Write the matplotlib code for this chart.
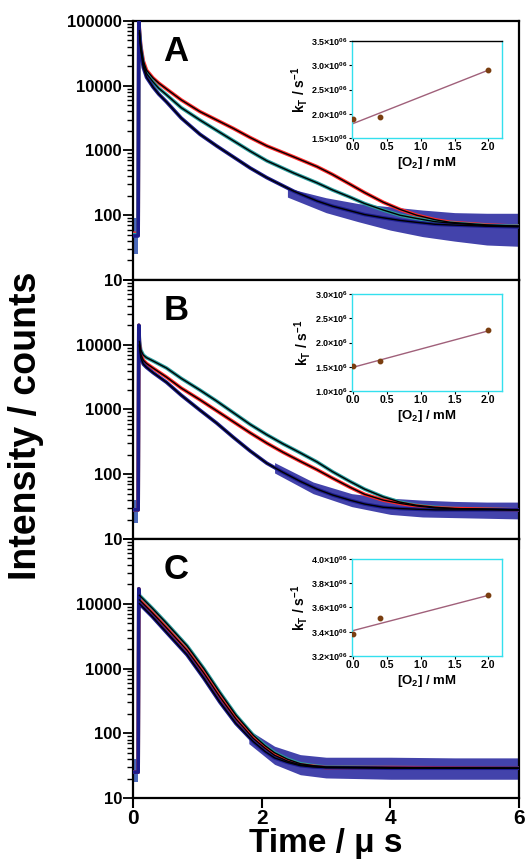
import matplotlib
matplotlib.use('Agg')
import matplotlib.pyplot as plt
import numpy as np
from matplotlib.ticker import LogLocator, FuncFormatter, NullFormatter

plt.rcParams.update({
    'font.family': ['Liberation Sans', 'DejaVu Sans'],
    'font.weight': 'bold',
    'mathtext.fontset': 'custom',
    'mathtext.rm': 'Liberation Sans:bold',
    'mathtext.it': 'Liberation Sans:italic:bold',
    'mathtext.bf': 'Liberation Sans:bold',
    'mathtext.default': 'rm',
})

# ============================================================
# Decay traces, log10(counts)
# ============================================================
tA = [0.0, 0.08, 0.09, 0.10, 0.12, 0.16, 0.21, 0.31, 0.40, 0.52, 0.75, 1.04, 1.30, 1.56, 1.82,
      2.08, 2.50, 2.86, 3.10, 3.37, 3.60, 3.89, 4.15, 4.41, 4.70, 4.93, 5.50, 6.0]
A_top = [1.72, 1.72, 5.0, 4.85, 4.62, 4.38, 4.24, 4.12, 4.04, 3.95, 3.78, 3.60, 3.47, 3.34, 3.20,
         3.07, 2.90, 2.75, 2.63, 2.48, 2.35, 2.20, 2.09, 2.00, 1.93, 1.89, 1.85, 1.83]
A_mid = [1.70, 1.70, 5.0, 4.82, 4.58, 4.33, 4.19, 4.06, 3.96, 3.86, 3.66, 3.47, 3.31, 3.15, 2.99,
         2.84, 2.65, 2.50, 2.39, 2.28, 2.18, 2.08, 2.00, 1.95, 1.90, 1.88, 1.84, 1.83]
A_bot = [1.68, 1.68, 5.0, 4.80, 4.55, 4.28, 4.13, 3.98, 3.87, 3.75, 3.50, 3.25, 3.07, 2.90, 2.73,
         2.58, 2.37, 2.22, 2.14, 2.07, 2.01, 1.96, 1.92, 1.89, 1.86, 1.85, 1.83, 1.82]

tB = [0.0, 0.08, 0.09, 0.10, 0.12, 0.16, 0.21, 0.31, 0.52, 0.75, 1.04, 1.30, 1.56, 1.82, 2.08,
      2.33, 2.60, 2.86, 3.10, 3.37, 3.60, 3.89, 4.15, 4.41, 4.70, 5.0, 6.0]
B_top = [1.45, 1.45, 4.30, 4.05, 3.92, 3.84, 3.80, 3.75, 3.64, 3.48, 3.30, 3.13, 2.95, 2.77, 2.61,
         2.47, 2.33, 2.19, 2.04, 1.89, 1.77, 1.65, 1.57, 1.52, 1.49, 1.47, 1.45]
B_mid = [1.45, 1.45, 4.30, 4.00, 3.85, 3.76, 3.71, 3.64, 3.50, 3.33, 3.15, 2.98, 2.81, 2.64, 2.48,
         2.34, 2.20, 2.07, 1.94, 1.80, 1.69, 1.60, 1.55, 1.51, 1.48, 1.47, 1.45]
B_bot = [1.45, 1.45, 4.30, 3.98, 3.80, 3.70, 3.65, 3.57, 3.42, 3.22, 2.99, 2.79, 2.57, 2.36, 2.17,
         2.03, 1.89, 1.77, 1.68, 1.60, 1.54, 1.49, 1.47, 1.46, 1.45, 1.45, 1.45]

tC = [0.0, 0.08, 0.09, 0.10, 0.30, 0.50, 0.84, 1.10, 1.35, 1.60, 1.87, 2.05, 2.20, 2.40, 2.60,
      2.80, 3.00, 4.00, 6.0]
C_top = [1.40, 1.40, 4.23, 4.13, 3.93, 3.72, 3.35, 3.00, 2.63, 2.28, 1.97, 1.81, 1.70, 1.60, 1.53,
         1.50, 1.48, 1.47, 1.46]
C_mid = [1.40, 1.40, 4.23, 4.06, 3.86, 3.65, 3.28, 2.93, 2.56, 2.22, 1.92, 1.77, 1.66, 1.57, 1.51,
         1.49, 1.47, 1.47, 1.46]
C_bot = [1.40, 1.40, 4.23, 4.00, 3.80, 3.58, 3.21, 2.85, 2.48, 2.15, 1.87, 1.72, 1.62, 1.55, 1.50,
         1.48, 1.47, 1.46, 1.46]

# noise envelope of the tails (log10 counts)
bandA_t = [2.4, 3.0, 3.5, 4.0, 4.5, 5.0, 5.5, 6.0]
bandA_hi = [2.42, 2.27, 2.18, 2.13, 2.08, 2.04, 2.03, 2.03]
bandA_lo = [2.28, 2.04, 1.90, 1.77, 1.67, 1.60, 1.54, 1.52]
bandB_t = [2.2, 2.8, 3.4, 4.0, 4.5, 5.0, 5.5, 6.0]
bandB_hi = [2.18, 1.88, 1.70, 1.63, 1.60, 1.58, 1.57, 1.57]
bandB_lo = [2.02, 1.70, 1.50, 1.38, 1.34, 1.33, 1.32, 1.31]
bandC_t = [1.8, 2.2, 2.6, 3.0, 4.0, 5.0, 6.0]
bandC_hi = [2.05, 1.80, 1.67, 1.63, 1.63, 1.62, 1.62]
bandC_lo = [1.84, 1.52, 1.36, 1.31, 1.29, 1.29, 1.29]
pre_band = [(1.40, 1.95), (1.25, 1.60), (1.25, 1.60)]

# ============================================================
# Inset data: k_T vs [O2]
# ============================================================
o2 = [0.0, 0.4, 2.0]
kA = [1.89e6, 1.93e6, 2.91e6]
kB = [1.52e6, 1.62e6, 2.26e6]
kC = [3.38e6, 3.51e6, 3.70e6]
fit_x = [0.0, 2.0]
fitA = [1.80e6, 2.90e6]
fitB = [1.49e6, 2.24e6]
fitC = [3.41e6, 3.70e6]

RED = '#ff2a2a'
TEAL = '#2a9d9d'
NAVY = '#1c1c8c'

panels = [
    ('A', tA, [A_top, A_mid, A_bot], [RED, TEAL, NAVY], (bandA_t, bandA_lo, bandA_hi)),
    ('B', tB, [B_top, B_mid, B_bot], [TEAL, RED, NAVY], (bandB_t, bandB_lo, bandB_hi)),
    ('C', tC, [C_top, C_mid, C_bot], [TEAL, RED, NAVY], (bandC_t, bandC_lo, bandC_hi)),
]
insets = [
    (kA, fitA, (1.5e6, 3.5e6), [1.5e6, 2.0e6, 2.5e6, 3.0e6, 3.5e6], '06'),
    (kB, fitB, (1.0e6, 3.0e6), [1.0e6, 1.5e6, 2.0e6, 2.5e6, 3.0e6], '6'),
    (kC, fitC, (3.2e6, 4.0e6), [3.2e6, 3.4e6, 3.6e6, 3.8e6, 4.0e6], '06'),
]

fig = plt.figure(figsize=(5.26, 8.66), dpi=100)

H = 0.2991
bottoms = [0.6767, 0.3776, 0.0785]
inset_bottoms = [0.8406, 0.5485, 0.2425]

for idx, (letter, t, traces, cols, band) in enumerate(panels):
    ax = fig.add_axes([0.2529, bottoms[idx], 0.7338, H])
    bt, blo, bhi = band
    ax.fill_between(bt, 10 ** np.array(blo), 10 ** np.array(bhi), color='#22229c', alpha=0.85, lw=0, zorder=2)
    lo, hi = pre_band[idx]
    ax.fill_between([0.0, 0.08], [10 ** lo] * 2, [10 ** hi] * 2, color='#2b50b0', alpha=0.85, lw=0, zorder=2)
    for vals, c in zip(traces, cols):
        y = 10 ** np.array(vals)
        ax.plot(t, y, color=c, lw=2.6, zorder=3, solid_joinstyle='round')
    for vals in traces:
        y = 10 ** np.array(vals)
        ax.plot(t[3:], y[3:], color='black', lw=1.0, zorder=4, solid_joinstyle='round')

    ax.set_yscale('log')
    ax.set_xlim(0, 6)
    ax.set_ylim(10, 1e5)
    ax.yaxis.set_major_locator(LogLocator(base=10, numticks=10))
    ax.yaxis.set_minor_locator(LogLocator(base=10, subs=np.arange(2, 10), numticks=20))
    ax.yaxis.set_minor_formatter(NullFormatter())
    if idx == 0:
        ax.yaxis.set_major_formatter(FuncFormatter(lambda v, p: f'{int(round(v))}'))
    else:
        ax.yaxis.set_major_formatter(FuncFormatter(lambda v, p: f'{int(round(v))}' if v < 5e4 else ''))
    ax.set_xticks([0, 2, 4, 6])
    ax.tick_params(axis='y', which='major', direction='out', length=7, width=1.3, pad=1, labelsize=12)
    ax.tick_params(axis='y', which='minor', direction='out', length=4, width=1.0)
    ax.tick_params(axis='x', which='major', direction='out', length=7, width=1.5, pad=1, labelsize=15)
    if idx < 2:
        ax.tick_params(axis='x', labelbottom=False)
    for s in ax.spines.values():
        s.set_linewidth(1.6)
    ax.text(0.078, 0.884, letter, transform=ax.transAxes, fontsize=25, fontweight='bold',
            ha='left', va='center')
    if idx == 2:
        ax.set_xlabel('Time / μ s', fontsize=24, fontweight='bold', labelpad=0)

    # inset
    k, fit, ylim, yt, exp = insets[idx]
    ins = fig.add_axes([0.669, inset_bottoms[idx], 0.285, 0.112])
    ins.plot(fit_x, fit, color='#a0607a', lw=1.0, zorder=2)
    ins.plot(o2, k, 'o', color='#7a3e10', ms=3.2, zorder=3)
    ins.set_xlim(-0.02, 2.2)
    ins.set_ylim(*ylim)
    ins.set_xticks([0.0, 0.5, 1.0, 1.5, 2.0])
    ins.set_xticklabels(['0.0', '0.5', '1.0', '1.5', '2.0'])
    ins.set_yticks(yt)
    ins.yaxis.set_major_formatter(FuncFormatter(
        lambda v, p, e=exp: f'{v / 1e6:.1f}×10$^{{{e}}}$'))
    ins.tick_params(axis='both', direction='out', length=2, width=0.8, pad=1)
    ins.tick_params(axis='y', labelsize=6.5)
    ins.tick_params(axis='x', labelsize=7.5)
    for s in ins.spines.values():
        s.set_color('#33e0ee')
        s.set_linewidth(1.0)
    if idx == 0:
        ins.spines['top'].set_color('black')
    ins.set_xlabel('[O$_2$] / mM', fontsize=9.5, fontweight='bold', labelpad=2)
    ins.set_ylabel('k$_\\mathrm{T}$ / s$^{-1}$', fontsize=10, fontweight='bold', labelpad=1)

fig.text(0.05, 0.508, 'Intensity / counts', rotation=90, fontsize=27, fontweight='bold',
         ha='center', va='center')

plt.savefig('out.png', dpi=100)
